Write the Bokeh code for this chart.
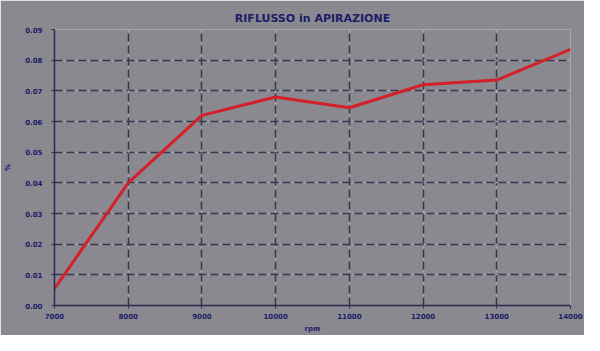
from bokeh.plotting import figure
from bokeh.models import Range1d, FixedTicker, Grid
from bokeh.embed import file_html
from bokeh.resources import INLINE

rpm = [7000, 8000, 9000, 10000, 11000, 12000, 13000, 14000]
riflusso = [0.0055, 0.040, 0.062, 0.068, 0.0645, 0.072, 0.0735, 0.0835]
y_ticks = [0.00, 0.01, 0.02, 0.03, 0.04, 0.05, 0.06, 0.07, 0.08, 0.09]
y_labels = {t: f"{t:.2f}" for t in y_ticks}

BG = "#8a8990"
NAVY = "#1c1c66"
GRID = "#38384f"

p = figure(width=584, height=335, output_backend="svg", toolbar_location=None,
           x_range=Range1d(7000, 14000), y_range=Range1d(0, 0.09),
           title="RIFLUSSO in APIRAZIONE")
p.background_fill_color = BG
p.border_fill_color = BG
p.outline_line_color = None
p.min_border_left = 54
p.min_border_right = 14
p.min_border_top = 29
p.min_border_bottom = 28

p.title.text_font = "DejaVu Sans"
p.title.text_font_size = "11px"
p.title.text_font_style = "bold"
p.title.text_color = NAVY
p.title.align = "center"
p.title.offset = 0

for ax in (p.xaxis[0], p.yaxis[0]):
    ax.axis_line_color = "#2a2a50"
    ax.axis_line_width = 1.5
    ax.major_tick_line_color = "#2a2a50"
    ax.major_tick_out = 3
    ax.major_tick_in = 0
    ax.minor_tick_line_color = None
    ax.major_label_text_font = "DejaVu Sans"
    ax.major_label_text_font_size = "7px"
    ax.major_label_text_font_style = "bold"
    ax.major_label_text_color = NAVY
    ax.axis_label_text_font = "DejaVu Sans"
    ax.axis_label_text_font_size = "7px"
    ax.axis_label_text_font_style = "bold"
    ax.axis_label_text_color = NAVY

p.xaxis.ticker = FixedTicker(ticks=rpm)
p.xaxis.axis_label = "rpm"
p.xaxis.major_label_standoff = 4
p.xaxis.axis_label_standoff = 3
p.yaxis.ticker = FixedTicker(ticks=y_ticks)
p.yaxis.major_label_overrides = y_labels
p.yaxis.axis_label = "%"
p.yaxis.major_label_standoff = 9
p.yaxis.axis_label_standoff = 10

p.xgrid.grid_line_color = GRID
p.xgrid.grid_line_dash = "8 4"
p.xgrid.grid_line_width = 1.5
p.ygrid.grid_line_color = GRID
p.ygrid.grid_line_dash = "8 4"
p.ygrid.grid_line_width = 1.5

for dim, ax in ((0, p.xaxis[0]), (1, p.yaxis[0])):
    g = Grid(dimension=dim, ticker=ax.ticker, grid_line_color="#aeaeb6",
             grid_line_dash="2 10", grid_line_dash_offset=3, grid_line_width=1.5)
    p.add_layout(g)

p.line(rpm, riflusso, line_color="#d42028", line_width=3)

open("out.html", "w").write(file_html(p, INLINE))
